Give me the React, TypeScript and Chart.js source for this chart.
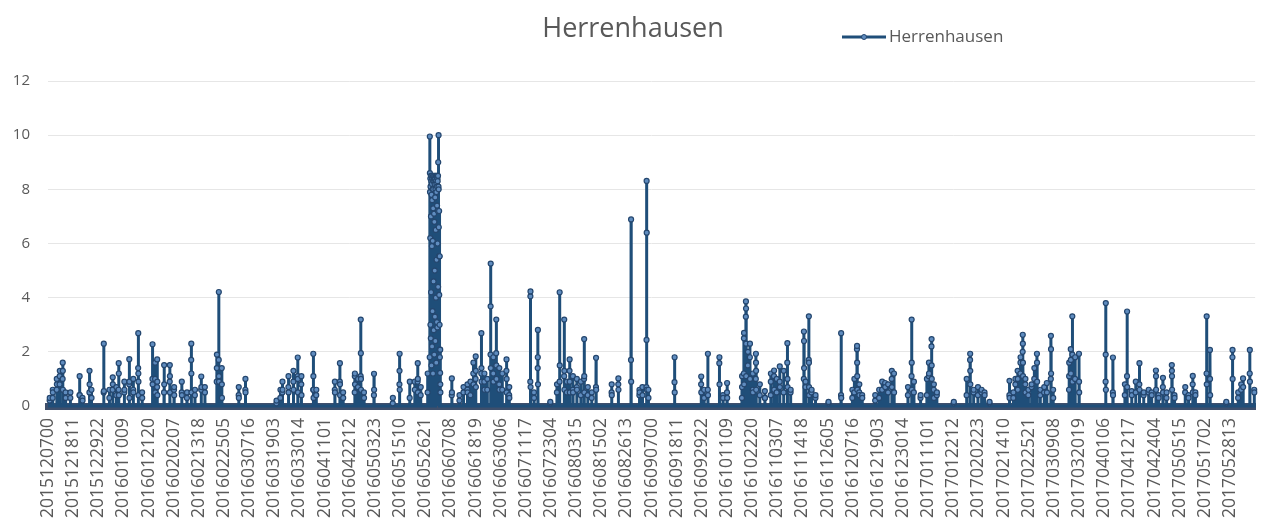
import React, { useEffect, useRef } from "react";
import { Chart, registerables } from "chart.js";

Chart.register(...registerables);

// X axis: hourly readings starting at 2015-12-07 00h; a label every 275 hours
const tickLabels: string[] = [
  "2015120700", "2015121811", "2015122922", "2016011009", "2016012120", "2016020207",
  "2016021318", "2016022505", "2016030716", "2016031903", "2016033014", "2016041101",
  "2016042212", "2016050323", "2016051510", "2016052621", "2016060708", "2016061819",
  "2016063006", "2016071117", "2016072304", "2016080315", "2016081502", "2016082613",
  "2016090700", "2016091811", "2016092922", "2016101109", "2016102220", "2016110307",
  "2016111418", "2016112605", "2016120716", "2016121903", "2016123014", "2017011101",
  "2017012212", "2017020223", "2017021410", "2017022521", "2017030908", "2017032019",
  "2017040106", "2017041217", "2017042404", "2017050515", "2017051702", "2017052813",
];
const TICK_STEP_HOURS = 275;
const X_MAX_HOURS = 13200;

const yTicks = { min: 0, max: 12, step: 2 };

// Rain events: hour index of first non-zero reading, and the consecutive readings (series is 0 elsewhere)
const eventStart: number[] = [
  18, 51, 95, 127, 160, 192, 244, 345, 377, 453, 475, 609, 671, 707, 747, 772, 834, 888, 932, 986,
  1029, 1142, 1171, 1193, 1269, 1331, 1378, 1462, 1519, 1566, 1606, 1675, 1715, 1845, 1867, 1900, 2085, 2158,
  2498, 2541, 2563, 2629, 2683, 2730, 2770, 2900, 2933, 3136, 3191, 3227, 3354, 3390, 3419, 3455, 3564,
  3770, 3843, 3955, 4010, 4042, 4075, 4151,
  4174, 4180, 4186, 4192, 4198, 4204, 4210, 4216, 4222, 4228, 4234, 4240, 4246, 4252, 4258, 4264, 4270,
  4276, 4282, 4288,
  4415, 4499, 4543, 4586, 4619, 4651, 4676, 4738, 4771, 4803, 4839, 4869, 4901, 4934, 4967, 5013, 5043,
  5274, 5314, 5355, 5492, 5565, 5594, 5644, 5673, 5703, 5739, 5782, 5826, 5862, 5902, 5945, 5992,
  6163, 6236, 6375, 6467, 6500, 6544, 6565, 6851, 7142, 7174, 7215, 7341, 7381, 7425,
  7588, 7609, 7631, 7653, 7675, 7707, 7740, 7783, 7838, 7903, 7939, 7968, 8001, 8044, 8084, 8120,
  8265, 8283, 8319, 8349, 8392, 8534, 8672, 8795, 8817, 8846, 8871, 8903, 9045, 9088, 9121, 9154,
  9186, 9226, 9251, 9403, 9443, 9468, 9541, 9610, 9632, 9661, 9686, 9719, 9904, 10045, 10083, 10121,
  10168, 10208, 10241, 10295, 10513, 10556, 10578, 10603, 10633, 10658, 10687, 10720, 10755, 10785,
  10814, 10850, 10893, 10922, 10966, 10991, 11165, 11184, 11201, 11231, 11274, 11565, 11644, 11775,
  11799, 11850, 11894, 11934, 11981, 12035, 12068, 12115, 12144, 12191, 12231, 12289, 12318, 12435,
  12471, 12517, 12546, 12669, 12706, 12884, 12952, 13014, 13047, 13068, 13141, 13190,
];

const eventValues: number[][] = [
  [0.2, 0.3], [0.3, 0.6, 0.5], [0.6, 1.0, 0.8], [0.8, 1.1, 1.3], [1.0, 1.6, 1.3, 0.6], [0.5, 0.3], [0.3, 0.5],
  [0.4, 1.1, 0.4], [0.3, 0.2], [0.5, 1.3, 0.8], [0.6, 0.3], [0.5, 2.3, 0.55], [0.3, 0.6], [0.6, 1.06, 0.8],
  [0.4, 0.7], [0.6, 1.58, 1.2, 0.4], [0.5, 0.9, 0.6], [0.8, 1.73, 0.9, 0.3], [0.6, 1.0, 0.5],
  [1.4, 2.69, 1.2, 0.9, 0.4],
  [0.5, 0.3], [1.0, 2.28, 0.8], [1.0, 1.6, 0.5], [0.7, 1.72, 0.9, 0.4], [0.5, 1.51, 0.8], [0.9, 1.51, 1.1, 0.5],
  [0.6, 0.7, 0.4], [0.5, 0.9, 0.4], [0.3, 0.5], [1.7, 2.3, 1.2, 0.5], [0.4, 0.6], [0.6, 1.09, 0.7], [0.7, 0.5],
  [0.9, 1.4, 1.9], [1.7, 4.21, 1.1, 0.9], [1.4, 0.8, 0.3], [0.4, 0.7, 0.3], [0.6, 1.0, 0.5],
  [0.1, 0.2], [0.3, 0.6], [0.5, 0.9, 0.6], [0.7, 1.1, 0.5], [0.9, 1.3, 0.6], [1.1, 1.79, 1.0, 0.5],
  [0.8, 1.1, 0.4], [0.6, 1.93, 1.1, 0.6, 0.3], [0.4, 0.6], [0.6, 0.9, 0.5], [0.9, 1.58, 0.8, 0.4], [0.5, 0.3],
  [0.5, 1.1, 1.2, 0.8], [0.7, 1.0], [1.1, 3.19, 1.95, 1.0, 0.6], [0.5, 0.3], [0.4, 1.19, 0.6],
  [0.1, 0.3], [0.8, 1.3, 1.93, 0.6], [0.3, 0.9], [0.9, 0.6], [0.9, 1.58, 1.0, 0.5], [0.4, 0.7], [0.5, 1.2],
  [1.8, 9.95, 8.6, 7.9], [6.2, 8.4, 3.0, 8.1], [2.5, 8.5, 7.0, 4.2], [8.3, 1.5, 7.8, 8.5], [5.9, 8.2, 2.2, 7.6],
  [8.4, 3.5, 8.0, 6.1], [1.2, 8.5, 7.3, 8.0], [4.6, 8.3, 2.8, 8.4], [7.1, 8.5, 1.9, 6.8], [8.2, 5.0, 8.4, 3.3],
  [7.7, 8.5, 2.4, 8.0], [6.5, 8.3, 4.0, 8.5], [1.6, 7.9, 8.2, 5.4], [8.5, 3.1, 7.4, 8.1], [2.9, 8.4, 6.0, 8.3],
  [7.2, 8.5, 4.4, 9.0], [8.1, 10.0, 8.0, 6.6], [5.53, 7.2, 4.1, 5.53], [3.0, 5.53, 2.08, 1.8],
  [1.22, 2.08, 0.8, 0.5],
  [0.4, 1.02, 0.5], [0.2, 0.4], [0.5, 0.7], [0.6, 0.8, 0.5], [0.4, 0.9], [1.2, 1.6, 0.8], [1.0, 1.83, 1.3, 0.7],
  [1.2, 2.69, 1.4, 0.9], [0.9, 1.2, 0.6], [0.6, 1.0], [1.9, 3.68, 5.26, 1.4], [1.2, 1.8, 0.9],
  [1.95, 3.19, 1.5, 1.0], [0.8, 1.4, 0.6], [0.6, 1.2], [1.3, 1.72, 1.0, 0.5], [0.4, 0.7, 0.3],
  [0.9, 4.05, 4.23, 0.7], [0.5, 0.3], [1.4, 1.8, 2.81, 0.8], [0.1, 0.15], [0.5, 0.8], [0.9, 4.2, 1.5],
  [1.1, 3.19, 1.3, 0.6], [0.9, 0.5], [1.3, 1.72, 0.9, 0.5], [0.6, 1.1, 0.5], [0.7, 1.0, 0.6], [0.4, 0.9],
  [1.0, 2.47, 1.1, 0.5], [0.4, 0.7], [0.3, 0.5], [0.7, 1.78, 0.6],
  [0.5, 0.8, 0.4], [0.8, 1.02, 0.6], [1.7, 6.89, 0.9], [0.4, 0.6, 0.5], [0.7, 0.4], [0.7, 2.44, 8.31, 6.4, 0.6],
  [0.6, 0.3], [0.88, 1.8, 0.5], [0.8, 1.09, 0.5], [0.3, 0.6], [0.6, 1.93, 0.4], [1.58, 1.8, 0.8], [0.4, 0.3],
  [0.5, 0.85, 0.3],
  [0.3, 0.7, 1.1], [1.2, 2.5, 2.7, 0.8], [3.3, 3.86, 3.6, 2.3, 1.1], [1.5, 2.0], [1.8, 2.3, 1.0], [0.6, 1.2, 0.5],
  [1.0, 1.93, 1.6, 1.3, 0.6], [0.4, 0.8], [0.3, 0.55, 0.3], [0.4, 0.9, 1.2], [1.1, 1.31, 0.6], [0.5, 1.0],
  [0.9, 1.46, 0.7], [0.5, 1.3], [1.6, 2.32, 1.0, 0.7], [0.5, 0.6],
  [1.0, 2.75, 2.4, 1.4], [0.7, 0.9], [1.7, 3.31, 1.6, 0.7, 0.4], [0.5, 0.6], [0.3, 0.4], [0.1, 0.15],
  [0.4, 2.69, 0.3], [0.3, 0.6], [0.5, 1.0], [2.1, 2.22, 1.6, 1.1, 0.6], [0.5, 0.8, 0.4], [0.4, 0.3], [0.2, 0.4],
  [0.3, 0.6], [0.6, 0.9], [0.85, 0.7],
  [0.5, 0.8], [1.0, 1.3, 0.7], [1.2, 0.5], [0.4, 0.7], [1.1, 3.19, 1.6, 0.6], [0.5, 0.9], [0.3, 0.4], [0.4, 1.0],
  [1.1, 1.6, 1.2], [2.2, 2.47, 1.5, 1.0], [0.6, 0.8, 0.3], [0.4, 0.5], [0.1, 0.15], [0.4, 1.0],
  [1.7, 1.93, 1.3, 0.8], [0.5, 0.6],
  [0.4, 0.7], [0.5, 0.6], [0.5, 0.4], [0.1, 0.15], [0.4, 0.93, 0.3], [0.3, 0.5], [0.8, 1.0], [1.3, 1.0, 0.6],
  [1.2, 1.6, 1.8], [2.0, 2.63, 2.3, 1.6, 1.1], [0.8, 1.0, 0.5], [0.4, 0.6], [0.7, 0.8], [1.0, 1.4],
  [1.93, 1.6, 0.9], [0.4, 0.6], [0.5, 0.7], [0.85, 0.5], [1.0, 2.59, 2.1, 1.2], [0.6, 0.3], [0.6, 1.1, 1.6],
  [2.1, 1.7, 1.2], [3.31, 1.9, 0.9], [1.0, 1.8], [1.93, 0.9, 0.5], [0.9, 1.9, 3.8, 0.6], [0.5, 1.79, 0.4],
  [0.4, 0.8],
  [1.1, 3.49, 0.7], [0.55, 0.4], [0.5, 0.9], [0.8, 1.58, 0.6], [0.4, 0.5], [0.5, 0.6], [0.5, 0.4],
  [1.31, 1.1, 0.6], [0.4, 0.3], [0.7, 1.04, 0.5], [0.3, 0.5], [1.51, 1.3, 1.1, 0.6], [0.4, 0.3], [0.5, 0.7],
  [0.4, 0.3], [0.8, 1.11, 0.5], [0.5, 0.4], [1.2, 3.31, 0.8], [2.07, 1.0, 0.4], [0.1, 0.15], [1.8, 2.07, 1.0],
  [0.3, 0.5], [0.6, 0.8], [1.02, 0.7], [1.2, 2.07, 0.9], [0.6, 0.5],
];

const SERIES_NAME = "Herrenhausen";
const LINE_COLOR = "#1F4E79";
const MARKER_FILL = "#5F8CBF";
const MARKER_BORDER = "#24466E";
const BASELINE_COLOR = "#3E4F6C";
const TEXT_COLOR = "#595959";
const FONT = "'Open Sans', 'Noto Sans', sans-serif";

function buildPoints() {
  const pts: { x: number; y: number }[] = [{ x: 0, y: 0 }];
  for (let i = 0; i < eventStart.length; i++) {
    const h = eventStart[i];
    const vals = eventValues[i] || [];
    const prevEnd = i > 0 ? eventStart[i - 1] + (eventValues[i - 1] || []).length : 0;
    if (h - 1 > prevEnd) pts.push({ x: h - 1, y: 0 });
    vals.forEach((v, k) => pts.push({ x: h + k, y: v }));
    const nextStart = i < eventStart.length - 1 ? eventStart[i + 1] : X_MAX_HOURS + 1;
    if (h + vals.length < nextStart) pts.push({ x: h + vals.length, y: 0 });
  }
  pts.push({ x: X_MAX_HOURS, y: 0 });
  return pts;
}

const headerPlugin = {
  id: "header",
  afterDraw(chart: any) {
    const ctx = chart.ctx as CanvasRenderingContext2D;
    ctx.save();
    // title
    ctx.fillStyle = TEXT_COLOR;
    ctx.font = `400 27px ${FONT}`;
    ctx.textAlign = "center";
    ctx.textBaseline = "middle";
    ctx.fillText(SERIES_NAME, 633, 29);
    // legend
    const ly = 37;
    ctx.strokeStyle = LINE_COLOR;
    ctx.lineWidth = 3;
    ctx.beginPath();
    ctx.moveTo(842, ly);
    ctx.lineTo(886, ly);
    ctx.stroke();
    ctx.beginPath();
    ctx.arc(864, ly, 2.5, 0, Math.PI * 2);
    ctx.fillStyle = MARKER_FILL;
    ctx.fill();
    ctx.lineWidth = 1;
    ctx.strokeStyle = MARKER_BORDER;
    ctx.stroke();
    ctx.fillStyle = TEXT_COLOR;
    ctx.font = `400 17px ${FONT}`;
    ctx.textAlign = "left";
    ctx.fillText(SERIES_NAME, 889, ly);
    ctx.restore();
  },
};

export default function App() {
  const ref = useRef<HTMLCanvasElement | null>(null);
  useEffect(() => {
    if (!ref.current) return;
    const chart = new Chart(ref.current, {
      type: "line",
      data: {
        datasets: [
          {
            label: SERIES_NAME,
            data: buildPoints(),
            borderColor: LINE_COLOR,
            borderWidth: 3,
            pointRadius: (c: any) => (c.raw && c.raw.y === 0 ? 0 : 2.5),
            pointBorderWidth: 1.2,
            pointBackgroundColor: MARKER_FILL,
            pointBorderColor: MARKER_BORDER,
            tension: 0,
            clip: 6,
          } as any,
        ],
      },
      options: {
        animation: false,
        responsive: false,
        layout: { padding: { top: 81, left: 0, right: 1, bottom: 0 } },
        plugins: {
          legend: { display: false },
          title: { display: false },
          tooltip: { enabled: false },
        },
        scales: {
          x: {
            type: "linear",
            min: 0,
            max: X_MAX_HOURS,
            grid: { display: false, drawTicks: false },
            border: { display: true, color: BASELINE_COLOR, width: 7 },
            afterBuildTicks: (s: any) => {
              s.ticks = tickLabels.map((_, i) => ({ value: i * TICK_STEP_HOURS }));
            },
            afterFit: (s: any) => {
              s.height = 118;
            },
            ticks: {
              autoSkip: false,
              maxRotation: 90,
              minRotation: 90,
              padding: 12,
              color: TEXT_COLOR,
              font: { family: FONT, size: 17.5 },
              callback: (_v: any, i: number) => tickLabels[i],
            },
          },
          y: {
            min: yTicks.min,
            max: yTicks.max,
            afterFit: (s: any) => {
              s.width = 48;
            },
            grid: { color: "#E6E6E6", lineWidth: 1, drawTicks: false },
            border: { display: false },
            ticks: {
              stepSize: yTicks.step,
              padding: 18,
              color: TEXT_COLOR,
              font: { family: FONT, size: 15 },
            },
          },
        },
      } as any,
      plugins: [headerPlugin],
    });
    return () => chart.destroy();
  }, []);
  return (
    <div style={{ position: "fixed", left: 0, top: 0, width: 1263, height: 524, background: "#fff" }}>
      <canvas ref={ref} width={1263} height={524} style={{ display: "block" }} />
    </div>
  );
}
